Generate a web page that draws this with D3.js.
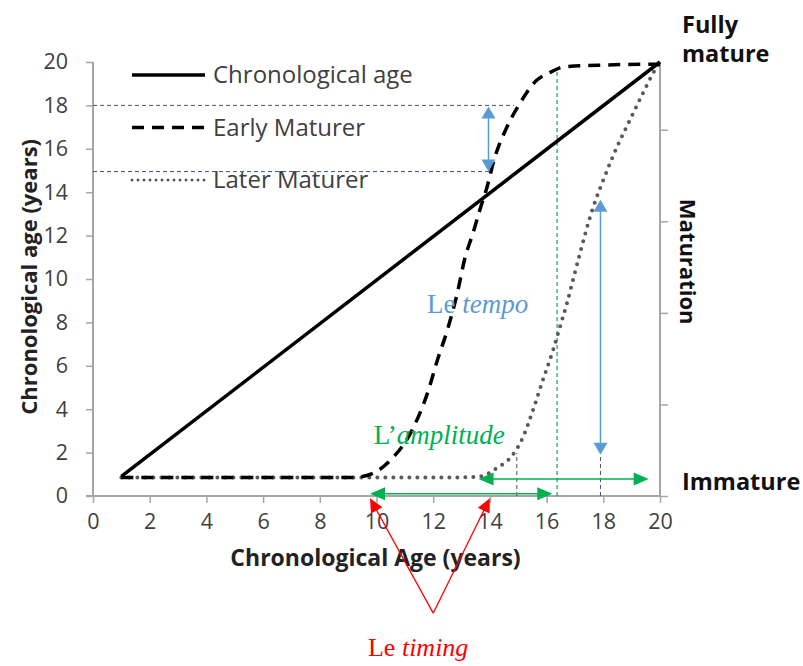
<!DOCTYPE html>
<html><head><meta charset="utf-8">
<script src="https://cdn.jsdelivr.net/npm/d3@7"></script>
<style>
html,body{margin:0;padding:0;background:#fff;}
svg{display:block;}
</style></head>
<body>
<script>
// ---------- data ----------
const xTicks = [0,2,4,6,8,10,12,14,16,18,20];
const yTicks = [0,2,4,6,8,10,12,14,16,18,20];
const maturationTicks = [0,1,2,3,4];

const chronological = [[1,0.9],[20,20]];
const earlyMaturer = [[1,0.85],[5,0.85],[9,0.85],[9.5,0.9],[9.9,1.06],[10.5,1.66],[11.2,2.9],[11.8,4.75],[12.15,6.27],
  [12.5,7.65],[12.85,9.35],[13.12,10.97],[13.4,12.1],[13.65,13.2],[13.9,14.24],[14.15,15.5],[14.6,17.0],
  [15.06,18.1],[15.66,19.17],[16.1,19.5],[16.6,19.77],[18,19.86],[20,19.9]];
const laterMaturer = [[1,0.85],[6,0.85],[12,0.85],[13,0.86],[13.65,0.9],[14.25,1.29],[14.8,1.89],[15.17,2.72],[15.52,3.96],
  [15.87,5.35],[16.23,6.73],[16.47,7.79],[16.72,8.89],[16.93,9.95],[17.18,11.2],[17.64,13.3],[18.0,14.56],
  [18.48,16.08],[18.94,17.33],[19.4,18.57],[19.82,19.63],[20,20]];

const legendLabels = ["Chronological age","Early Maturer","Later Maturer"];

// annotation guides (data units)
const guideH = [{y:18,x0:0,x1:14.85},{y:14.95,x0:0,x1:14.1}];
const guideV = [{x:17.9,y0:0,y1:1.9},{x:14.95,y0:0,y1:1.98}];
const greenGuide = [{x:16.37,y0:0,y1:19.68}];
const tempoArrows = [{x:13.95,y0:17.95,y1:14.95},{x:17.9,y0:13.65,y1:1.9}];
const amplitudeArrows = [{y:0.78,x0:13.6,x1:19.6},{y:0.1,x0:9.77,x1:16.2}];
const timingOrigin = [12,-5.4];
const timingTargets = [[9.77,-0.1],[14.0,-0.1]];

// ---------- layout ----------
const W=803,H=666;
const x = d3.scaleLinear().domain([0,20]).range([93,660]);
const y = d3.scaleLinear().domain([0,20]).range([496,62]);
const yM = d3.scaleLinear().domain([0,4.74]).range([496,62]);

const svg = d3.select("body").append("svg").attr("width",W).attr("height",H);
const sans = "'Open Sans', 'Noto Sans', sans-serif";
const serif = "'Liberation Serif', 'DejaVu Serif', serif";
const axisGray = "#a6a6a6";
const blue="#5b9bd5", green="#00b050", red="#ff0000", navy="#44546a";

// axes
const gx = svg.append("g").attr("transform",`translate(0,${y(0)})`)
  .call(d3.axisBottom(x).tickValues(xTicks).tickSize(7).tickPadding(11));
const gy = svg.append("g").attr("transform",`translate(${x(0)},0)`)
  .call(d3.axisLeft(y).tickValues(yTicks).tickSize(7).tickPadding(18));
const gr = svg.append("g").attr("transform",`translate(${x(20)},0)`)
  .call(d3.axisRight(yM).tickValues(maturationTicks).tickSize(8).tickFormat(""));
[gx,gy,gr].forEach(g=>{
  g.selectAll("path").attr("stroke",axisGray).attr("stroke-width",2);
  g.selectAll("line").attr("stroke",axisGray).attr("stroke-width",1.5);
  g.selectAll("text").attr("font-family",sans).attr("font-size",21.5).attr("fill","#404040");
});
gy.select(".domain").attr("d",`M0,${y(0)}V${y(20)}`);
gr.select(".domain").attr("d",`M0,${y(0)}V${y(20)}`);
gx.select(".domain").attr("d",`M${x(0)-7},0H${x(20)}`);

// axis titles
svg.append("text").attr("x",x(10)-1).attr("y",566).attr("text-anchor","middle")
  .attr("font-family",sans).attr("font-weight","bold").attr("font-size",23).attr("fill","#222")
  .text("Chronological Age (years)");
svg.append("text").attr("transform",`translate(37,${y(10.1)}) rotate(-90)`).attr("text-anchor","middle")
  .attr("font-family",sans).attr("font-weight","bold").attr("font-size",22).attr("fill","#222")
  .text("Chronological age (years)");

// right labels
const rl = svg.append("g").attr("font-family",sans).attr("font-weight","bold").attr("font-size",23.5).attr("fill","#111");
rl.append("text").attr("x",682).attr("y",33).text("Fully");
rl.append("text").attr("x",682).attr("y",62).text("mature");
rl.append("text").attr("x",682).attr("y",490).text("Immature");
rl.append("text").attr("transform",`translate(680,${y(10.8)}) rotate(90)`).attr("text-anchor","middle")
  .attr("font-size",22).text("Maturation");

// guides
svg.append("g").selectAll("line").data(guideH).join("line")
  .attr("x1",d=>x(d.x0)).attr("x2",d=>x(d.x1)).attr("y1",d=>y(d.y)).attr("y2",d=>y(d.y))
  .attr("stroke",navy).attr("stroke-width",1).attr("stroke-dasharray","4,3");
svg.append("g").selectAll("line").data(guideV).join("line")
  .attr("x1",d=>x(d.x)).attr("x2",d=>x(d.x)).attr("y1",d=>y(d.y0)).attr("y2",d=>y(d.y1))
  .attr("stroke",navy).attr("stroke-width",1).attr("stroke-dasharray","4,3");
svg.append("g").selectAll("line").data(greenGuide).join("line")
  .attr("x1",d=>x(d.x)).attr("x2",d=>x(d.x)).attr("y1",d=>y(d.y0)).attr("y2",d=>y(d.y1))
  .attr("stroke",green).attr("stroke-width",1.2).attr("stroke-dasharray","4,3");

// curves
const line = d3.line().x(d=>x(d[0])).y(d=>y(d[1])).curve(d3.curveMonotoneX);
svg.append("path").datum(laterMaturer).attr("d",line).attr("fill","none")
  .attr("stroke","#595959").attr("stroke-width",4).attr("stroke-linecap","round").attr("stroke-dasharray","0,8");
svg.append("path").datum(earlyMaturer).attr("d",line).attr("fill","none")
  .attr("stroke","#000").attr("stroke-width",3.5).attr("stroke-dasharray","12,8");
svg.append("path").datum(chronological).attr("d",d3.line().x(d=>x(d[0])).y(d=>y(d[1]))).attr("fill","none")
  .attr("stroke","#000").attr("stroke-width",3.5);

// legend
const lg = svg.append("g");
const legendStyles = [{dash:null,color:"#000",w:3.5,cap:"butt"},{dash:"12,8",color:"#000",w:3.5,cap:"butt"},{dash:"0,6",color:"#595959",w:3,cap:"round"}];
legendLabels.forEach((t,i)=>{
  const yy = 75 + i*52.5;
  lg.append("line").attr("x1",132).attr("x2",205).attr("y1",yy).attr("y2",yy)
    .attr("stroke",legendStyles[i].color).attr("stroke-width",legendStyles[i].w)
    .attr("stroke-linecap",legendStyles[i].cap)
    .attr("stroke-dasharray",legendStyles[i].dash);
  lg.append("text").attr("x",213).attr("y",yy+8).attr("font-family",sans).attr("font-size",24)
    .attr("fill","#404040").text(t);
});

// arrow helper
function head(g, tipX, tipY, fromX, fromY, len, half, color){
  const a = Math.atan2(tipY-fromY, tipX-fromX);
  const bx = tipX - len*Math.cos(a), by = tipY - len*Math.sin(a);
  const px = -Math.sin(a)*half, py = Math.cos(a)*half;
  g.append("path").attr("d",`M${tipX},${tipY}L${bx+px},${by+py}L${bx-px},${by-py}Z`).attr("fill",color);
}

// tempo arrows
const ta = svg.append("g");
tempoArrows.forEach(d=>{
  const X=x(d.x), Y0=y(d.y0), Y1=y(d.y1);
  ta.append("line").attr("x1",X).attr("x2",X).attr("y1",Y0+10).attr("y2",Y1-10)
    .attr("stroke",blue).attr("stroke-width",1.5);
  head(ta,X,Y1,X,Y0,12,7,blue);
  head(ta,X,Y0,X,Y1,12,7,blue);
});

// amplitude arrows
const aa = svg.append("g");
amplitudeArrows.forEach(d=>{
  const Y=y(d.y), X0=x(d.x0), X1=x(d.x1);
  aa.append("line").attr("x1",X0+10).attr("x2",X1-10).attr("y1",Y).attr("y2",Y)
    .attr("stroke",green).attr("stroke-width",1.5);
  head(aa,X0,Y,X1,Y,15,6.5,green);
  head(aa,X1,Y,X0,Y,15,6.5,green);
});

// timing arrows
const tg = svg.append("g");
timingTargets.forEach(t=>{
  const ox=x(timingOrigin[0]), oy=y(timingOrigin[1]), tx=x(t[0]), ty=y(t[1]);
  tg.append("line").attr("x1",ox).attr("y1",oy).attr("x2",tx+(ox-tx)*0.08).attr("y2",ty+(oy-ty)*0.08)
    .attr("stroke",red).attr("stroke-width",1.3);
  head(tg,tx,ty,ox,oy,14,6.5,red);
});

// annotation texts
function label(xp, yp, plain, ital, color, size){
  const t = svg.append("text").attr("x",xp).attr("y",yp).attr("font-family",serif)
    .attr("font-size",size||27).attr("fill",color);
  t.append("tspan").text(plain);
  t.append("tspan").attr("font-style","italic").text(ital);
}
label(x(11.78),313,"Le ","tempo",blue);
label(x(9.9),444,"L\u2019","amplitude",green);
label(x(9.7),656,"Le ","timing",red,26);
</script>
</body></html>
